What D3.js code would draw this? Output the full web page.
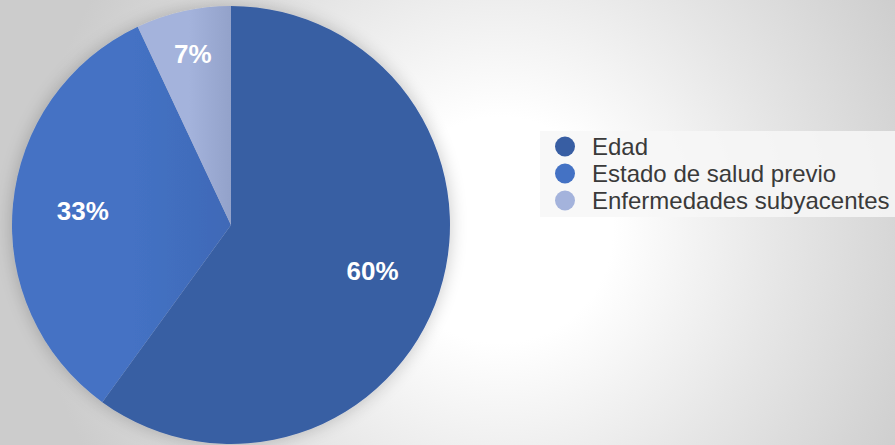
<!DOCTYPE html>
<html lang="es">
<head>
  <meta charset="UTF-8" />
  <title>Factores de riesgo</title>
  <script src="https://d3js.org/d3.v7.min.js"></script>
  <style>
    html, body { margin: 0; padding: 0; background: #d6d6d6; }
    svg { display: block; font-family: 'Liberation Sans', Arial, Helvetica, sans-serif; }
  </style>
</head>
<body>
<div id="chart"></div>
<script>
// data
const categories = ["Edad", "Estado de salud previo", "Enfermedades subyacentes"];
const values = [60, 33, 7];
const labels = ["60%", "33%", "7%"];
const colors = ["#385ea3", "#4472c4", "#a4b3dc"];
const shadeTo = ["#385ea3", "#3f69b7", "#93a2ca"];

const W = 895, H = 445;
const cx = 231, cy = 225, R = 219;

const svg = d3.select("#chart").append("svg")
  .attr("width", W)
  .attr("height", H);

const defs = svg.append("defs");

// background glow
const bg = defs.append("radialGradient")
  .attr("id", "bgGrad")
  .attr("gradientUnits", "userSpaceOnUse")
  .attr("cx", 500).attr("cy", 230).attr("r", 470);
bg.append("stop").attr("offset", "0%").attr("stop-color", "#ffffff");
bg.append("stop").attr("offset", "24%").attr("stop-color", "#ffffff");
bg.append("stop").attr("offset", "60%").attr("stop-color", "#e6e6e6");
bg.append("stop").attr("offset", "100%").attr("stop-color", "#cccccc");

svg.append("rect")
  .attr("width", W).attr("height", H)
  .attr("fill", "url(#bgGrad)");

// soft shadow under the pie
const shadow = defs.append("filter")
  .attr("id", "pieShadow")
  .attr("x", "-20%").attr("y", "-20%")
  .attr("width", "140%").attr("height", "140%");
shadow.append("feGaussianBlur").attr("in", "SourceAlpha").attr("stdDeviation", 9);
shadow.append("feComponentTransfer").append("feFuncA").attr("type", "linear").attr("slope", 0.22);
const merge = shadow.append("feMerge");
merge.append("feMergeNode");
merge.append("feMergeNode").attr("in", "SourceGraphic");

const pie = d3.pie().sort(null).value(d => d);
const arcs = pie(values);
const arc = d3.arc().innerRadius(0).outerRadius(R);

// gradient per slice, darkens toward the Edad boundary
arcs.forEach((a, i) => {
  const [x0, x1] = d3.extent(d3.range(0, 21).map(k => {
    const t = a.startAngle + (a.endAngle - a.startAngle) * k / 20;
    return R * Math.sin(t);
  }).concat([0]));
  const g = defs.append("linearGradient")
    .attr("id", "slice" + i)
    .attr("gradientUnits", "userSpaceOnUse")
    .attr("x1", x0).attr("x2", x1).attr("y1", 0).attr("y2", 0);
  g.append("stop").attr("offset", "0%").attr("stop-color", colors[i]);
  g.append("stop").attr("offset", "55%").attr("stop-color", colors[i]);
  g.append("stop").attr("offset", "100%").attr("stop-color", shadeTo[i]);
});

const gPie = svg.append("g")
  .attr("transform", `translate(${cx},${cy})`);

gPie.append("g")
  .attr("filter", "url(#pieShadow)")
  .selectAll("path")
  .data(arcs)
  .enter()
  .append("path")
  .attr("d", arc)
  .attr("fill", (d, i) => "url(#slice" + i + ")");

// labels, small slices pushed outward
gPie.selectAll("text.pct")
  .data(arcs)
  .enter()
  .append("text")
  .attr("class", "pct")
  .attr("transform", d => {
    const share = (d.endAngle - d.startAngle) / (2 * Math.PI);
    const r = share < 0.1 ? R * 0.8 : R * 0.68;
    const c = d3.arc().innerRadius(r).outerRadius(r).centroid(d);
    return `translate(${c[0]},${c[1]})`;
  })
  .attr("text-anchor", "middle")
  .attr("dominant-baseline", "central")
  .style("fill", "#ffffff")
  .style("font-weight", "bold")
  .style("font-size", "26px")
  .text((d, i) => labels[i]);

// legend
const legend = svg.append("g");
legend.append("rect")
  .attr("x", 540).attr("y", 131)
  .attr("width", W - 540).attr("height", 86)
  .attr("fill", "#f7f7f7")
  .attr("opacity", 0.85);

const rowY = d3.scalePoint().domain(categories).range([146.5, 200.5]);

const items = legend.selectAll("g.item")
  .data(categories)
  .enter()
  .append("g")
  .attr("class", "item")
  .attr("transform", d => `translate(565,${rowY(d)})`);

items.append("circle")
  .attr("r", 10)
  .attr("fill", (d, i) => colors[i]);

items.append("text")
  .attr("x", 27)
  .attr("dominant-baseline", "central")
  .style("fill", "#3a3a3a")
  .style("font-size", "24px")
  .text(d => d);
</script>
</body>
</html>
